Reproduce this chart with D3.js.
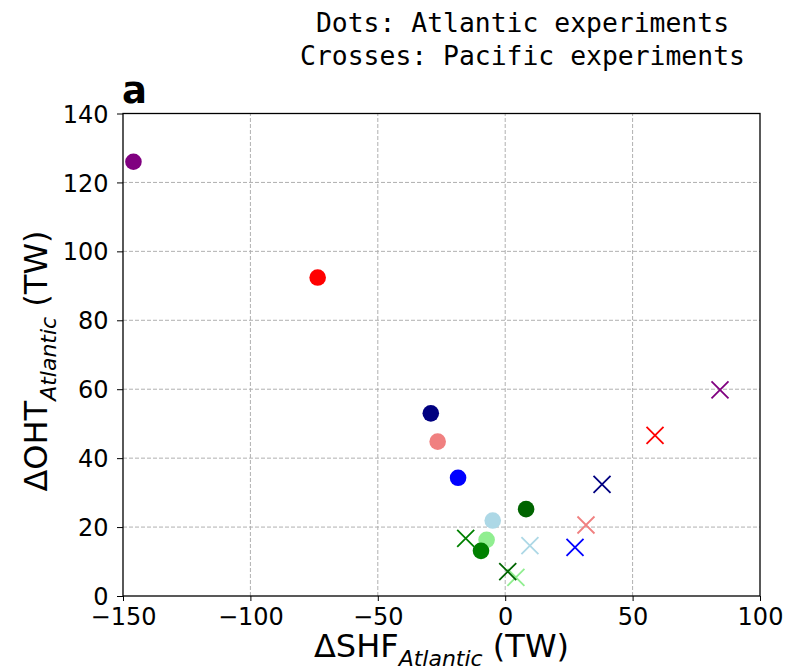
<!DOCTYPE html>
<html>
<head>
<meta charset="utf-8">
<script src="https://cdn.jsdelivr.net/npm/d3@7"></script>
<style>
  body { margin: 0; background: #fff; }
  svg { display: block; }
</style>
</head>
<body>
<div id="chart"></div>
<script>
// experiment colours, same order for both basins
const colors = ["purple", "red", "navy", "lightcoral", "blue", "lightblue", "lightgreen", "green", "darkgreen"]

// Atlantic experiments (dots)
const atlShf = [-145.9, -73.6, -29.2, -26.5, -18.5, -4.9, -7.3, -9.5, 8.2]
const atlOht = [126.0, 92.4, 53.0, 44.8, 34.3, 21.9, 16.3, 13.1, 25.2]

// Pacific experiments (crosses)
const pacShf = [84.3, 58.8, 38.0, 31.7, 27.4, 9.7, 4.2, -15.5, 1.0]
const pacOht = [59.8, 46.6, 32.4, 20.6, 14.1, 14.6, 5.4, 16.7, 7.1]

const xTicks = [-150, -100, -50, 0, 50, 100]
const yTicks = [0, 20, 40, 60, 80, 100, 120, 140]

const width = 797, height = 670
const margin = { left: 123, right: 37, top: 113.5, bottom: 74 }

const svg = d3.select("#chart").append("svg")
  .attr("width", width)
  .attr("height", height)

const x = d3.scaleLinear().domain([-150, 100]).range([margin.left, width - margin.right])
const y = d3.scaleLinear().domain([0, 140]).range([height - margin.bottom, margin.top])

const tickFont = "DejaVu Sans, sans-serif"

// grid
svg.append("g").selectAll("line")
  .data(xTicks.slice(1, -1))
  .join("line")
  .attr("x1", d => x(d)).attr("x2", d => x(d))
  .attr("y1", y(0)).attr("y2", y(140))
  .attr("stroke", "#b0b0b0").attr("stroke-width", 1).attr("stroke-dasharray", "4,2")

svg.append("g").selectAll("line")
  .data(yTicks.slice(1, -1))
  .join("line")
  .attr("x1", x(-150)).attr("x2", x(100))
  .attr("y1", d => y(d)).attr("y2", d => y(d))
  .attr("stroke", "#b0b0b0").attr("stroke-width", 1).attr("stroke-dasharray", "4,2")

// axes
const xAxis = svg.append("g")
  .attr("transform", `translate(0,${y(0)})`)
  .call(d3.axisBottom(x).tickValues(xTicks).tickSize(5).tickPadding(7)
    .tickFormat(d => d < 0 ? "\u2212" + Math.abs(d) : d))
const yAxis = svg.append("g")
  .attr("transform", `translate(${x(-150)},0)`)
  .call(d3.axisLeft(y).tickValues(yTicks).tickSize(6).tickPadding(8.5))

;[xAxis, yAxis].forEach(g => {
  g.select(".domain").remove()
  g.selectAll("text").attr("font-family", tickFont).attr("font-size", 24).attr("fill", "#000")
  g.selectAll("line").attr("stroke", "#000").attr("stroke-width", 1)
})
yAxis.selectAll("text").attr("dy", "0.36em")

// frame
svg.append("rect")
  .attr("x", x(-150)).attr("y", y(140))
  .attr("width", x(100) - x(-150)).attr("height", y(0) - y(140))
  .attr("fill", "none").attr("stroke", "#000").attr("stroke-width", 1.3)

// dots
svg.append("g").selectAll("circle")
  .data(d3.range(atlShf.length))
  .join("circle")
  .attr("cx", i => x(atlShf[i]))
  .attr("cy", i => y(atlOht[i]))
  .attr("r", 8.3)
  .attr("fill", i => colors[i])

// crosses
const s = 8.5
svg.append("g").selectAll("path")
  .data(d3.range(pacShf.length))
  .join("path")
  .attr("d", i => {
    const cx = x(pacShf[i]), cy = y(pacOht[i])
    return `M${cx - s},${cy - s}L${cx + s},${cy + s}M${cx - s},${cy + s}L${cx + s},${cy - s}`
  })
  .attr("fill", "none")
  .attr("stroke", i => colors[i])
  .attr("stroke-width", 1.8)

// axis labels
const xl = svg.append("text")
  .attr("x", (x(-150) + x(100)) / 2).attr("y", 657)
  .attr("text-anchor", "middle")
  .attr("font-family", tickFont).attr("font-size", 32)
xl.append("tspan").text("\u0394SHF")
xl.append("tspan").attr("font-size", 22).attr("font-style", "italic").attr("dy", 9).text("Atlantic")
xl.append("tspan").attr("dy", -9).text(" (TW)")

const yl = svg.append("text")
  .attr("transform", `translate(47,361) rotate(-90)`)
  .attr("text-anchor", "middle")
  .attr("font-family", tickFont).attr("font-size", 32)
yl.append("tspan").text("\u0394OHT")
yl.append("tspan").attr("font-size", 22).attr("font-style", "italic").attr("dy", 9).text("Atlantic")
yl.append("tspan").attr("dy", -9).text(" (TW)")

// panel letter
svg.append("text")
  .attr("x", 122).attr("y", 103)
  .attr("font-family", tickFont).attr("font-weight", "bold").attr("font-size", 37)
  .text("a")

// title
const titleLines = ["Dots: Atlantic experiments", "Crosses: Pacific experiments"]
svg.append("g").selectAll("text")
  .data(titleLines)
  .join("text")
  .attr("x", 522.5)
  .attr("y", (d, i) => 31.5 + i * 33.5)
  .attr("text-anchor", "middle")
  .attr("font-family", "DejaVu Sans Mono, monospace")
  .attr("font-size", 26.4)
  .text(d => d)
</script>
</body>
</html>
